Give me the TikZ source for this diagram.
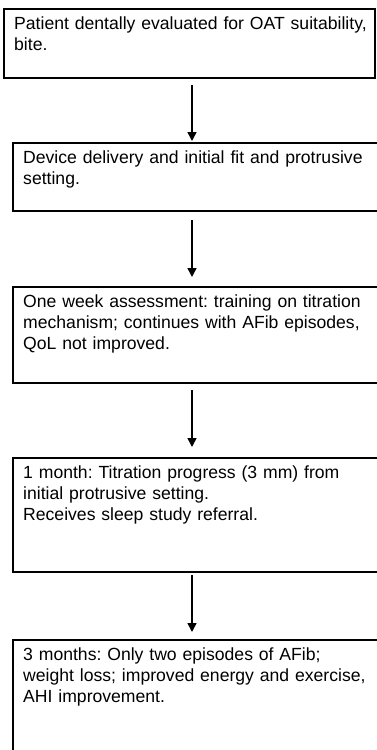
\documentclass[tikz,border=0pt]{standalone}
\usepackage{fontspec}
\setmainfont{Liberation Sans}
\frenchspacing
\usetikzlibrary{arrows.meta}

\tikzset{
    stagebox/.style={draw, line width=1.8pt, anchor=north west, minimum width=371pt, inner sep=0pt},
    stagetext/.style={anchor=north west, align=left, text width=365pt, inner xsep=11pt, inner ysep=9pt,
        font=\fontsize{17.6}{21}\selectfont},
    flow/.style={-{Triangle[width=9pt,length=9pt]}, line width=1.5pt}
}

\begin{document}
\begin{tikzpicture}[x=1pt,y=-1pt]
    \useasboundingbox (0,0) rectangle (377,750);
    \coordinate (axis) at (192,0);

    % the five stages
    \node[stagebox, minimum height=69pt]  (b1) at (3,8) {};
    \node[stagebox, minimum height=68pt]  (b2) at (12,142) {};
    \node[stagebox, minimum height=96pt]  (b3) at (12,286) {};
    \node[stagebox, minimum height=114pt] (b4) at (12,457) {};
    \node[stagebox, minimum height=130pt] (b5) at (12,639) {};

    \node[stagetext] (t1) at (b1.north west) {Patient dentally evaluated for OAT suitability,\\ bite.};
    \node[stagetext] (t2) at (b2.north west) {Device delivery and initial fit and protrusive\\ setting.};
    \node[stagetext] (t3) at (b3.north west) {One week assessment: training on titration\\ mechanism; continues with AFib episodes,\\ QoL not improved.};
    \node[stagetext] (t4) at (b4.north west) {1 month: Titration progress (3 mm) from\\ initial protrusive setting.\\ Receives sleep study referral.};
    \node[stagetext] (t5) at (b5.north west) {3 months: Only two episodes of AFib;\\ weight loss; improved energy and exercise,\\ AHI improvement.};

    % arrows between stages
    \draw[flow, shorten <=6pt, shorten >=1pt]  (b1.south -| axis) -- (b2.north -| axis);
    \draw[flow, shorten <=8pt, shorten >=9pt]  (b2.south -| axis) -- (b3.north -| axis);
    \draw[flow, shorten <=6pt, shorten >=10pt] (b3.south -| axis) -- (b4.north -| axis);
    \draw[flow, shorten <=2pt, shorten >=7pt]  (b4.south -| axis) -- (b5.north -| axis);
\end{tikzpicture}
\end{document}
